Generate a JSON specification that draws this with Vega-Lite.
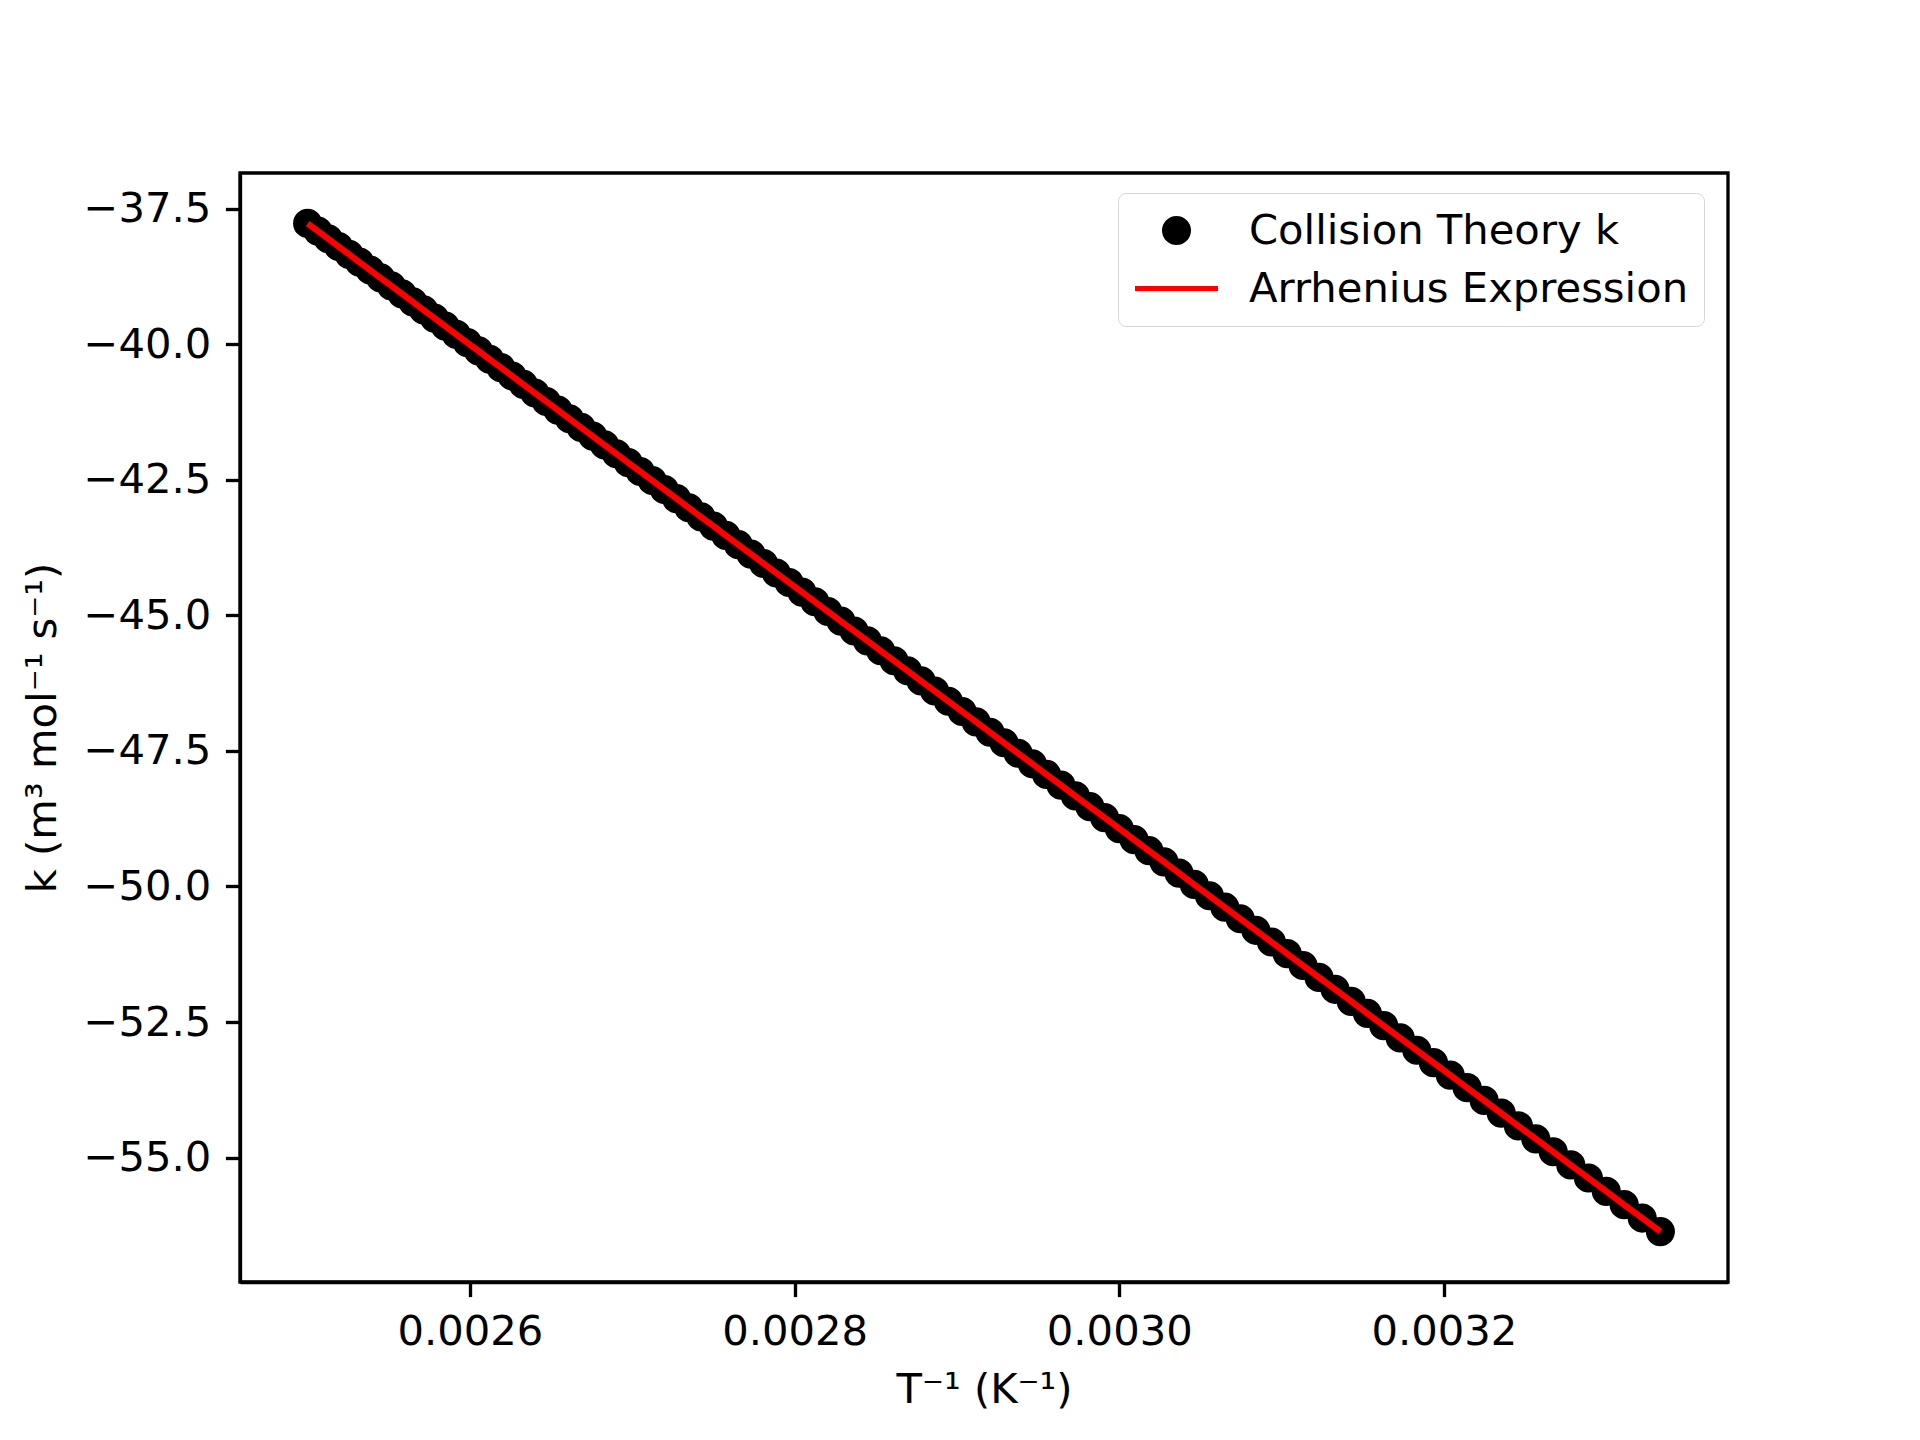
{
  "$schema": "https://vega.github.io/schema/vega-lite/v6.json",
  "width": 1488,
  "height": 1109,
  "padding": {"left": 240, "top": 173, "right": 192, "bottom": 158},
  "autosize": {"type": "none"},
  "background": "white",
  "config": {
    "font": "DejaVu Sans",
    "view": {"stroke": "black", "strokeWidth": 3.33},
    "axis": {
      "grid": false,
      "domainColor": "black",
      "domainWidth": 3.33,
      "tickColor": "black",
      "tickWidth": 3.33,
      "tickSize": 14.6,
      "labelPadding": 14.6,
      "labelFont": "DejaVu Sans",
      "labelFontSize": 41.7,
      "labelColor": "black",
      "titleFont": "DejaVu Sans",
      "titleFontSize": 41.7,
      "titleFontWeight": "normal",
      "titleColor": "black"
    },
    "legend": {
      "title": null,
      "orient": "none",
      "legendX": 878,
      "legendY": 20,
      "padding": 15,
      "rowPadding": 13,
      "labelOffset": 50,
      "symbolOffset": 21,
      "labelFont": "DejaVu Sans",
      "labelFontSize": 41.7,
      "labelColor": "black",
      "labelLimit": 1000,
      "symbolSize": 1600,
      "symbolStrokeWidth": 5,
      "symbolOpacity": 1,
      "fillColor": "white",
      "strokeColor": "#d6d6d6",
      "cornerRadius": 8
    }
  },
  "data": {"values": [
    {"x": 0.003333333, "k": -56.364},
    {"x": 0.003322148, "k": -56.115},
    {"x": 0.003311037, "k": -55.868},
    {"x": 0.0033, "k": -55.622},
    {"x": 0.003289037, "k": -55.377},
    {"x": 0.003278146, "k": -55.135},
    {"x": 0.003267327, "k": -54.893},
    {"x": 0.003256579, "k": -54.654},
    {"x": 0.003245902, "k": -54.416},
    {"x": 0.003235294, "k": -54.180},
    {"x": 0.003224756, "k": -53.945},
    {"x": 0.003214286, "k": -53.711},
    {"x": 0.003203883, "k": -53.479},
    {"x": 0.003193548, "k": -53.249},
    {"x": 0.00318328, "k": -53.020},
    {"x": 0.003173077, "k": -52.793},
    {"x": 0.003162939, "k": -52.567},
    {"x": 0.003152866, "k": -52.342},
    {"x": 0.003142857, "k": -52.119},
    {"x": 0.003132911, "k": -51.897},
    {"x": 0.003123028, "k": -51.677},
    {"x": 0.003113208, "k": -51.458},
    {"x": 0.003103448, "k": -51.240},
    {"x": 0.00309375, "k": -51.024},
    {"x": 0.003084112, "k": -50.809},
    {"x": 0.003074534, "k": -50.596},
    {"x": 0.003065015, "k": -50.383},
    {"x": 0.003055556, "k": -50.172},
    {"x": 0.003046154, "k": -49.963},
    {"x": 0.00303681, "k": -49.754},
    {"x": 0.003027523, "k": -49.547},
    {"x": 0.003018293, "k": -49.341},
    {"x": 0.003009119, "k": -49.137},
    {"x": 0.003, "k": -48.933},
    {"x": 0.002990937, "k": -48.731},
    {"x": 0.002981928, "k": -48.530},
    {"x": 0.002972973, "k": -48.331},
    {"x": 0.002964072, "k": -48.132},
    {"x": 0.002955224, "k": -47.935},
    {"x": 0.002946429, "k": -47.739},
    {"x": 0.002937685, "k": -47.544},
    {"x": 0.002928994, "k": -47.350},
    {"x": 0.002920354, "k": -47.157},
    {"x": 0.002911765, "k": -46.965},
    {"x": 0.002903226, "k": -46.775},
    {"x": 0.002894737, "k": -46.586},
    {"x": 0.002886297, "k": -46.397},
    {"x": 0.002877907, "k": -46.210},
    {"x": 0.002869565, "k": -46.024},
    {"x": 0.002861272, "k": -45.839},
    {"x": 0.002853026, "k": -45.655},
    {"x": 0.002844828, "k": -45.472},
    {"x": 0.002836676, "k": -45.290},
    {"x": 0.002828571, "k": -45.109},
    {"x": 0.002820513, "k": -44.930},
    {"x": 0.0028125, "k": -44.751},
    {"x": 0.002804533, "k": -44.573},
    {"x": 0.00279661, "k": -44.396},
    {"x": 0.002788732, "k": -44.221},
    {"x": 0.002780899, "k": -44.046},
    {"x": 0.002773109, "k": -43.872},
    {"x": 0.002765363, "k": -43.699},
    {"x": 0.00275766, "k": -43.527},
    {"x": 0.00275, "k": -43.356},
    {"x": 0.002742382, "k": -43.186},
    {"x": 0.002734807, "k": -43.017},
    {"x": 0.002727273, "k": -42.849},
    {"x": 0.00271978, "k": -42.682},
    {"x": 0.002712329, "k": -42.516},
    {"x": 0.002704918, "k": -42.350},
    {"x": 0.002697548, "k": -42.186},
    {"x": 0.002690217, "k": -42.022},
    {"x": 0.002682927, "k": -41.859},
    {"x": 0.002675676, "k": -41.697},
    {"x": 0.002668464, "k": -41.536},
    {"x": 0.00266129, "k": -41.376},
    {"x": 0.002654155, "k": -41.217},
    {"x": 0.002647059, "k": -41.059},
    {"x": 0.00264, "k": -40.901},
    {"x": 0.002632979, "k": -40.744},
    {"x": 0.002625995, "k": -40.588},
    {"x": 0.002619048, "k": -40.433},
    {"x": 0.002612137, "k": -40.279},
    {"x": 0.002605263, "k": -40.125},
    {"x": 0.002598425, "k": -39.973},
    {"x": 0.002591623, "k": -39.821},
    {"x": 0.002584856, "k": -39.670},
    {"x": 0.002578125, "k": -39.520},
    {"x": 0.002571429, "k": -39.370},
    {"x": 0.002564767, "k": -39.221},
    {"x": 0.00255814, "k": -39.073},
    {"x": 0.002551546, "k": -38.926},
    {"x": 0.002544987, "k": -38.780},
    {"x": 0.002538462, "k": -38.634},
    {"x": 0.002531969, "k": -38.489},
    {"x": 0.00252551, "k": -38.345},
    {"x": 0.002519084, "k": -38.201},
    {"x": 0.00251269, "k": -38.058},
    {"x": 0.002506329, "k": -37.916},
    {"x": 0.0025, "k": -37.775}
  ]},
  "encoding": {
    "x": {
      "field": "x",
      "type": "quantitative",
      "scale": {"domain": [0.00245833, 0.003375], "nice": false, "zero": false},
      "axis": {
        "title": "T⁻¹ (K⁻¹)",
        "values": [0.0026, 0.0028, 0.003, 0.0032],
        "format": ".4f",
        "titlePadding": 17
      }
    },
    "y": {
      "field": "k",
      "type": "quantitative",
      "scale": {"domain": [-57.294, -36.845], "nice": false, "zero": false},
      "axis": {
        "title": "k (m³ mol⁻¹ s⁻¹)",
        "values": [-55, -52.5, -50, -47.5, -45, -42.5, -40, -37.5],
        "format": ".1f",
        "titlePadding": 19
      }
    }
  },
  "layer": [
    {
      "mark": {"type": "point", "filled": true, "size": 1736, "stroke": "black", "strokeWidth": 4.17, "opacity": 1, "fillOpacity": 1},
      "encoding": {
        "color": {
          "datum": "Collision Theory k",
          "type": "nominal",
          "scale": {"domain": ["Collision Theory k", "Arrhenius Expression"], "range": ["black", "red"]}
        },
        "shape": {
          "datum": "Collision Theory k",
          "type": "nominal",
          "scale": {
            "domain": ["Collision Theory k", "Arrhenius Expression"],
            "range": ["M-0.6,0A0.6,0.6 0 1,0 0.6,0A0.6,0.6 0 1,0 -0.6,0Z", "M-2.075,0L2.075,0"]
          }
        }
      }
    },
    {
      "mark": {"type": "line", "strokeWidth": 6.25},
      "encoding": {
        "color": {"datum": "Arrhenius Expression", "type": "nominal"}
      }
    }
  ]
}
